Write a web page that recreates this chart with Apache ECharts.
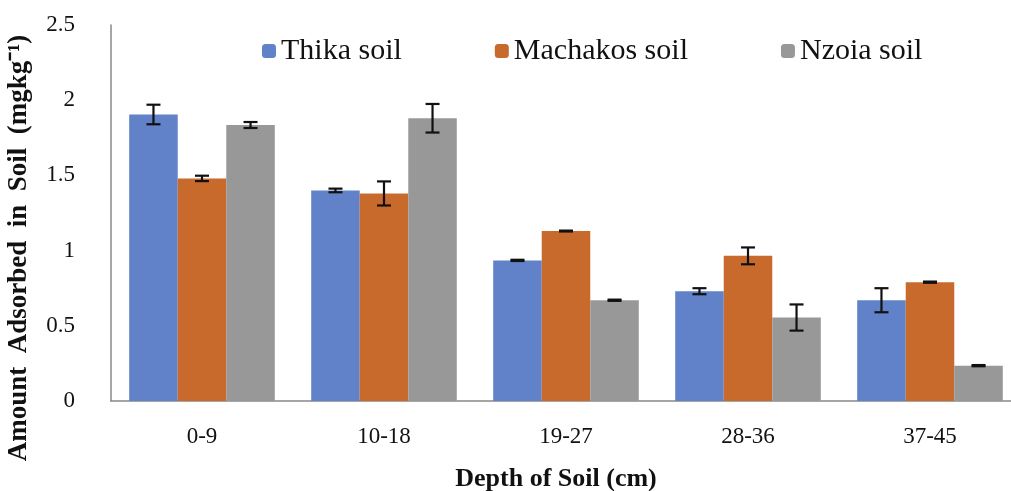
<!DOCTYPE html>
<html>
<head>
<meta charset="utf-8">
<script src="https://cdn.jsdelivr.net/npm/echarts@6/dist/echarts.min.js"></script>
<style>
  html, body { margin: 0; padding: 0; background: #fff; }
  #chart { width: 1011px; height: 491px; }
</style>
</head>
<body>
<div id="chart"></div>
<script>
// depth classes
const categories = ['0-9', '10-18', '19-27', '28-36', '37-45']
// amount adsorbed (mg/kg)
const thika = [1.905, 1.40, 0.935, 0.73, 0.67]
const machakos = [1.48, 1.38, 1.13, 0.965, 0.79]
const nzoia = [1.835, 1.88, 0.67, 0.555, 0.235]
// error bar half lengths
const thikaErr = [0.065, 0.012, 0.004, 0.02, 0.08]
const machakosErr = [0.018, 0.08, 0.003, 0.056, 0.004]
const nzoiaErr = [0.02, 0.095, 0.004, 0.087, 0.004]
const seriesNames = ['Thika soil', 'Machakos soil', 'Nzoia soil']
const itemColor = ['#6182c8', '#c86a2c', '#989898']

const catGap = 0.2
const serif = 'Liberation Serif'

function errSeries(vals, errs, idx) {
  return {
    type: 'custom',
    name: seriesNames[idx] + ' err',
    z: 10,
    data: vals.map((v, i) => [i, v, errs[i]]),
    renderItem(params, api) {
      const w = api.size([1, 0])[0]
      const bw = w * (1 - catGap) / 3
      const p = api.coord([api.value(0), api.value(1)])
      const x = p[0] + (idx - 1) * bw
      const top = api.coord([api.value(0), api.value(1) + api.value(2)])[1]
      const bot = api.coord([api.value(0), api.value(1) - api.value(2)])[1]
      const cap = 7
      const style = { stroke: '#111', lineWidth: 2.2 }
      return {
        type: 'group',
        children: [
          { type: 'line', shape: { x1: x, y1: top, x2: x, y2: bot }, style },
          { type: 'line', shape: { x1: x - cap, y1: top, x2: x + cap, y2: top }, style },
          { type: 'line', shape: { x1: x - cap, y1: bot, x2: x + cap, y2: bot }, style }
        ]
      }
    }
  }
}

const chart = echarts.init(document.getElementById('chart'))
chart.setOption({
  animation: false,
  textStyle: { fontFamily: serif },
  legend: {
    data: seriesNames,
    top: 31,
    left: 257,
    itemWidth: 14,
    itemHeight: 14,
    itemGap: 93,
    textStyle: { fontFamily: serif, fontSize: 30, color: '#111' }
  },
  grid: {
    left: 111,
    top: 25,
    width: 910,
    bottom: 90,
    outerBoundsMode: 'none'
  },
  xAxis: {
    type: 'category',
    data: categories,
    name: 'Depth of Soil (cm)',
    nameLocation: 'middle',
    nameGap: 65,
    nameTextStyle: { fontFamily: serif, fontSize: 26, fontWeight: 'bold', color: '#111', padding: [0, 20, 0, 0] },
    axisLine: { lineStyle: { color: '#888', width: 1.5 } },
    axisTick: { show: false },
    axisLabel: { fontFamily: serif, fontSize: 23, color: '#111', margin: 24 }
  },
  yAxis: {
    type: 'value',
    min: 0,
    max: 2.5,
    interval: 0.5,
    name: 'Amount  Adsorbed  in  Soil  (mgkg⁻¹)',
    nameLocation: 'middle',
    nameGap: 78,
    nameTextStyle: { fontFamily: serif, fontSize: 27, fontWeight: 'bold', color: '#111', padding: [0, 70, 0, 0] },
    axisLine: { show: true, lineStyle: { color: '#888', width: 1.5 } },
    axisTick: { show: false },
    splitLine: { show: false },
    axisLabel: { fontFamily: serif, fontSize: 23, color: '#111', margin: 36 }
  },
  series: [
    { name: seriesNames[0], type: 'bar', data: thika, barGap: 0, barCategoryGap: '20%', itemStyle: { color: itemColor[0] } },
    { name: seriesNames[1], type: 'bar', data: machakos, barGap: 0, barCategoryGap: '20%', itemStyle: { color: itemColor[1] } },
    { name: seriesNames[2], type: 'bar', data: nzoia, barGap: 0, barCategoryGap: '20%', itemStyle: { color: itemColor[2] } },
    errSeries(thika, thikaErr, 0),
    errSeries(machakos, machakosErr, 1),
    errSeries(nzoia, nzoiaErr, 2)
  ]
})
</script>
</body>
</html>
